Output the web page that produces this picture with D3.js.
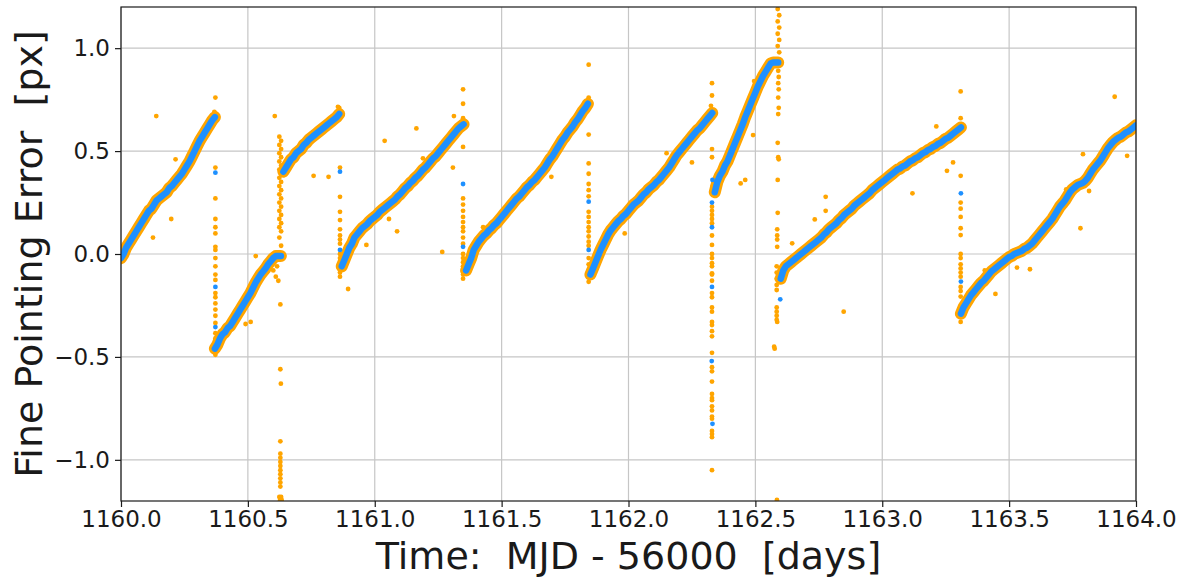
<!DOCTYPE html>
<html>
<head>
<meta charset="utf-8">
<script src="https://cdn.jsdelivr.net/npm/d3@7"></script>
<style>
  body { margin: 0; background: #fff; }
  text { font-family: "DejaVu Sans", sans-serif; fill: #1a1a1a; }
</style>
</head>
<body>
<div id="chart"></div>
<script>
// Fine pointing error vs time, raw (orange) and smoothed (blue) samples

const width = 1180;
const height = 579;
const margin = {left: 121, right: 44, top: 7, bottom: 78};

// axis ticks
const xTicks = [1160.0, 1160.5, 1161.0, 1161.5, 1162.0, 1162.5, 1163.0, 1163.5, 1164.0];
const yTicks = [-1.0, -0.5, 0.0, 0.5, 1.0];

// sampling cadence of the trend segments (days)
const cadence = 0.01;
// start time of each sawtooth segment
const segStarts = [1160.00, 1160.37, 1160.64, 1160.87, 1161.36, 1161.85, 1162.34, 1162.60, 1163.31];

// trend values, one per cadence step
const trend1 = [-0.02, 0.00, 0.03, 0.05, 0.07, 0.09, 0.11, 0.13, 0.15, 0.17, 0.19, 0.21, 0.22, 0.24, 0.26, 0.27, 0.28, 0.29, 0.30, 0.32, 0.33, 0.345, 0.36, 0.375, 0.39, 0.41, 0.43, 0.45, 0.475, 0.50, 0.525, 0.55, 0.57, 0.59, 0.61, 0.63, 0.65, 0.665];
const trend2 = [-0.46, -0.44, -0.41, -0.39, -0.38, -0.36, -0.35, -0.33, -0.31, -0.29, -0.27, -0.25, -0.23, -0.21, -0.19, -0.165, -0.14, -0.12, -0.10, -0.085, -0.07, -0.05, -0.035, -0.02, -0.01, -0.01, -0.01];
const trend3 = [0.40, 0.42, 0.44, 0.46, 0.47, 0.49, 0.50, 0.51, 0.53, 0.54, 0.555, 0.565, 0.575, 0.585, 0.595, 0.605, 0.615, 0.625, 0.635, 0.645, 0.655, 0.665, 0.68];
const trend4 = [-0.06, -0.03, 0.00, 0.03, 0.05, 0.08, 0.095, 0.11, 0.125, 0.135, 0.145, 0.16, 0.17, 0.18, 0.19, 0.205, 0.215, 0.225, 0.235, 0.245, 0.255, 0.265, 0.28, 0.29, 0.305, 0.32, 0.33, 0.345, 0.355, 0.37, 0.38, 0.395, 0.41, 0.42, 0.435, 0.45, 0.465, 0.475, 0.49, 0.505, 0.52, 0.535, 0.55, 0.565, 0.58, 0.595, 0.61, 0.62, 0.63];
const trend5 = [-0.08, -0.05, -0.02, 0.02, 0.04, 0.06, 0.075, 0.09, 0.10, 0.115, 0.125, 0.14, 0.15, 0.165, 0.18, 0.195, 0.21, 0.225, 0.24, 0.255, 0.27, 0.28, 0.295, 0.31, 0.325, 0.335, 0.35, 0.36, 0.375, 0.39, 0.405, 0.42, 0.44, 0.46, 0.475, 0.495, 0.515, 0.535, 0.555, 0.57, 0.59, 0.605, 0.62, 0.64, 0.655, 0.675, 0.695, 0.71, 0.73];
const trend6 = [-0.10, -0.07, -0.04, -0.01, 0.02, 0.045, 0.07, 0.095, 0.115, 0.13, 0.145, 0.16, 0.17, 0.185, 0.195, 0.21, 0.225, 0.24, 0.25, 0.26, 0.275, 0.29, 0.30, 0.315, 0.325, 0.335, 0.35, 0.36, 0.375, 0.39, 0.405, 0.42, 0.44, 0.46, 0.48, 0.495, 0.51, 0.525, 0.54, 0.555, 0.57, 0.585, 0.60, 0.61, 0.625, 0.64, 0.655, 0.67, 0.685];
const trend7 = [0.30, 0.35, 0.38, 0.40, 0.43, 0.45, 0.48, 0.51, 0.54, 0.57, 0.60, 0.63, 0.665, 0.695, 0.725, 0.755, 0.785, 0.815, 0.84, 0.865, 0.885, 0.905, 0.925, 0.93, 0.93, 0.93];
const trend8 = [-0.12, -0.08, -0.06, -0.05, -0.04, -0.03, -0.02, -0.01, 0.00, 0.01, 0.02, 0.03, 0.04, 0.05, 0.06, 0.07, 0.08, 0.095, 0.105, 0.12, 0.13, 0.14, 0.15, 0.165, 0.175, 0.19, 0.20, 0.21, 0.22, 0.235, 0.245, 0.255, 0.265, 0.275, 0.285, 0.295, 0.31, 0.32, 0.33, 0.34, 0.35, 0.36, 0.37, 0.38, 0.39, 0.40, 0.41, 0.415, 0.425, 0.43, 0.44, 0.45, 0.455, 0.465, 0.47, 0.48, 0.49, 0.495, 0.505, 0.51, 0.52, 0.525, 0.535, 0.54, 0.55, 0.56, 0.565, 0.575, 0.585, 0.595, 0.605, 0.615];
const trend9 = [-0.29, -0.26, -0.24, -0.22, -0.20, -0.185, -0.17, -0.155, -0.14, -0.13, -0.115, -0.10, -0.085, -0.075, -0.065, -0.055, -0.045, -0.035, -0.025, -0.015, -0.01, 0.00, 0.005, 0.01, 0.015, 0.025, 0.03, 0.04, 0.05, 0.065, 0.08, 0.095, 0.11, 0.125, 0.14, 0.155, 0.17, 0.19, 0.21, 0.23, 0.245, 0.26, 0.28, 0.30, 0.315, 0.325, 0.335, 0.34, 0.345, 0.355, 0.37, 0.39, 0.41, 0.425, 0.44, 0.455, 0.475, 0.495, 0.515, 0.53, 0.545, 0.555, 0.565, 0.57, 0.58, 0.59, 0.595, 0.605, 0.615, 0.625];
const trends = [trend1, trend2, trend3, trend4, trend5, trend6, trend7, trend8, trend9];

// raw samples off the trend: outliers and the columns at each reset [time, value]
const orangePoints = [
  [1160.139, 0.67], [1160.215, 0.46], [1160.198, 0.17], [1160.126, 0.08], [1160.368, 0.69],
  [1160.372, 0.76], [1160.372, 0.42], [1160.372, 0.27], [1160.372, 0.17], [1160.372, 0.13], [1160.372, 0.10],
  [1160.372, 0.035], [1160.372, 0.02], [1160.372, -0.02], [1160.372, -0.06], [1160.372, -0.10], [1160.372, -0.126],
  [1160.372, -0.19], [1160.372, -0.21], [1160.372, -0.24], [1160.372, -0.27], [1160.372, -0.30], [1160.372, -0.335],
  [1160.372, -0.385], [1160.372, -0.41], [1160.372, -0.44], [1160.372, -0.49],
  [1160.531, -0.01], [1160.491, -0.34], [1160.511, -0.33], [1160.606, 0.67], [1160.628, -0.245],
  [1160.600, -0.08], [1160.610, -0.11], [1160.620, -0.13], [1160.615, -0.06],
  [1160.624, 0.57], [1160.631, 0.55], [1160.624, 0.53], [1160.631, 0.51], [1160.624, 0.49], [1160.631, 0.47],
  [1160.624, 0.45], [1160.631, 0.43], [1160.624, 0.41], [1160.631, 0.39], [1160.624, 0.37], [1160.631, 0.35],
  [1160.624, 0.33], [1160.631, 0.31], [1160.624, 0.29], [1160.631, 0.27], [1160.624, 0.25], [1160.631, 0.23],
  [1160.624, 0.21], [1160.631, 0.19], [1160.624, 0.17], [1160.631, 0.15], [1160.624, 0.13], [1160.631, 0.11],
  [1160.624, 0.08], [1160.631, 0.04],
  [1160.628, -0.56], [1160.630, -0.63], [1160.628, -0.91], [1160.628, -0.97], [1160.628, -0.99], [1160.628, -1.01],
  [1160.628, -1.03], [1160.628, -1.05], [1160.628, -1.07], [1160.628, -1.09], [1160.628, -1.11], [1160.628, -1.13],
  [1160.624, -1.18], [1160.631, -1.18], [1160.627, -1.195], [1160.633, -1.195],
  [1160.759, 0.38], [1160.818, 0.375], [1160.860, 0.71], [1160.855, 0.715],
  [1160.863, 0.42], [1160.863, 0.278], [1160.863, 0.205], [1160.863, 0.165], [1160.863, 0.12], [1160.863, 0.09],
  [1160.863, 0.07], [1160.863, 0.05], [1160.863, 0.00], [1160.863, -0.02], [1160.863, -0.045], [1160.863, -0.09],
  [1160.863, -0.11], [1160.895, -0.17],
  [1161.039, 0.55], [1161.056, 0.17], [1161.088, 0.11], [1160.967, 0.044], [1161.164, 0.61], [1161.190, 0.465],
  [1161.266, 0.01], [1161.308, 0.42], [1161.312, 0.67],
  [1161.348, 0.80], [1161.348, 0.73], [1161.348, 0.66], [1161.348, 0.52], [1161.348, 0.27], [1161.348, 0.24],
  [1161.348, 0.21], [1161.348, 0.18], [1161.348, 0.155], [1161.348, 0.13], [1161.348, 0.11], [1161.348, 0.08],
  [1161.348, 0.05], [1161.348, 0.00], [1161.348, -0.02], [1161.348, -0.04], [1161.348, -0.06], [1161.348, -0.10],
  [1161.348, -0.12],
  [1161.427, 0.13], [1161.696, 0.375],
  [1161.843, 0.92], [1161.843, 0.76], [1161.843, 0.58], [1161.843, 0.44], [1161.843, 0.39], [1161.843, 0.34],
  [1161.843, 0.31], [1161.843, 0.28], [1161.843, 0.205], [1161.843, 0.18], [1161.843, 0.155], [1161.843, 0.13],
  [1161.843, 0.11], [1161.843, 0.085], [1161.843, 0.06], [1161.843, 0.04], [1161.843, -0.02], [1161.843, -0.05],
  [1161.843, -0.08], [1161.843, -0.11], [1161.843, -0.135],
  [1161.985, 0.10], [1162.150, 0.49], [1162.250, 0.445], [1162.325, 0.72],
  [1162.329, 0.83], [1162.329, 0.77], [1162.329, 0.51], [1162.329, 0.47], [1162.332, 0.33], [1162.332, 0.31],
  [1162.332, 0.29], [1162.329, 0.23], [1162.329, 0.21], [1162.329, 0.19], [1162.329, 0.17], [1162.329, 0.15],
  [1162.329, 0.09], [1162.329, 0.044], [1162.329, 0.00], [1162.329, -0.02], [1162.329, -0.045], [1162.329, -0.06],
  [1162.329, -0.094], [1162.329, -0.10], [1162.329, -0.13], [1162.329, -0.19], [1162.329, -0.21], [1162.329, -0.26],
  [1162.329, -0.28], [1162.329, -0.33], [1162.329, -0.345], [1162.329, -0.375], [1162.329, -0.40], [1162.329, -0.48],
  [1162.329, -0.55], [1162.329, -0.57], [1162.329, -0.62], [1162.329, -0.68], [1162.329, -0.70], [1162.329, -0.71],
  [1162.329, -0.74], [1162.329, -0.76], [1162.329, -0.79], [1162.329, -0.80], [1162.329, -0.86], [1162.329, -0.875],
  [1162.329, -0.89], [1162.329, -1.05],
  [1162.495, 0.84], [1162.491, 0.578], [1162.442, 0.343], [1162.460, 0.36],
  [1162.588, 1.19], [1162.594, 1.16], [1162.588, 1.13], [1162.594, 1.10], [1162.588, 1.07], [1162.594, 1.04],
  [1162.588, 1.01], [1162.594, 0.98], [1162.590, 0.89], [1162.592, 0.86], [1162.590, 0.83], [1162.592, 0.80],
  [1162.590, 0.76], [1162.592, 0.71], [1162.590, 0.68], [1162.588, 0.54], [1162.590, 0.47], [1162.592, 0.46],
  [1162.588, 0.36], [1162.588, 0.20], [1162.586, 0.12], [1162.586, 0.09], [1162.586, 0.07], [1162.586, 0.035],
  [1162.584, -0.06], [1162.584, -0.09], [1162.584, -0.12], [1162.584, -0.15], [1162.584, -0.175], [1162.584, -0.26],
  [1162.584, -0.28], [1162.584, -0.30], [1162.584, -0.32], [1162.586, -0.33], [1162.574, -0.45], [1162.576, -0.46],
  [1162.585, -1.195],
  [1162.645, 0.052], [1162.734, 0.168], [1162.777, 0.278], [1162.777, 0.21], [1162.848, -0.28], [1163.119, 0.295],
  [1163.213, 0.62], [1163.255, 0.404], [1163.279, 0.445],
  [1163.309, 0.79], [1163.309, 0.66], [1163.309, 0.38], [1163.309, 0.25], [1163.309, 0.22], [1163.309, 0.18],
  [1163.309, 0.125], [1163.309, 0.092], [1163.309, 0.00], [1163.309, -0.02], [1163.309, -0.05], [1163.309, -0.07],
  [1163.309, -0.09], [1163.309, -0.11], [1163.309, -0.16], [1163.309, -0.18], [1163.309, -0.207], [1163.309, -0.33],
  [1163.404, -0.08], [1163.446, -0.194], [1163.531, -0.066], [1163.582, -0.074], [1163.725, 0.314], [1163.781, 0.125],
  [1163.791, 0.485], [1163.815, 0.306], [1163.916, 0.764], [1163.965, 0.477]
];

// smoothed samples caught in the reset columns [time, value]
const bluePoints = [
  [1160.372, 0.395], [1160.372, -0.16], [1160.372, -0.355],
  [1160.863, 0.40], [1160.863, 0.02],
  [1161.348, 0.34], [1161.348, 0.035],
  [1161.843, 0.254], [1161.843, 0.02],
  [1162.331, 0.36], [1162.329, 0.25], [1162.329, 0.13], [1162.329, -0.16], [1162.328, -0.52], [1162.331, -0.825],
  [1162.598, -0.22],
  [1163.310, 0.295], [1163.310, -0.134]
];

const orange = "#ffa500";
const blue = "#1e90ff";

const svg = d3.select("#chart")
  .append("svg")
  .attr("width", width)
  .attr("height", height);

const xScale = d3.scaleLinear()
  .domain([1160, 1164])
  .range([margin.left, width - margin.right]);

const yScale = d3.scaleLinear()
  .domain([-1.2, 1.2])
  .range([height - margin.bottom, margin.top]);

// grid
svg.append("g")
  .selectAll("line")
  .data(xTicks)
  .enter()
  .append("line")
    .attr("x1", d => xScale(d)).attr("x2", d => xScale(d))
    .attr("y1", margin.top).attr("y2", height - margin.bottom)
    .attr("stroke", "#c6c6c6").attr("stroke-width", 1.2);

svg.append("g")
  .selectAll("line")
  .data(yTicks)
  .enter()
  .append("line")
    .attr("x1", margin.left).attr("x2", width - margin.right)
    .attr("y1", d => yScale(d)).attr("y2", d => yScale(d))
    .attr("stroke", "#c6c6c6").attr("stroke-width", 1.2);

// clip the marks to the plot box
svg.append("clipPath")
  .attr("id", "plot-clip")
  .append("rect")
    .attr("x", margin.left)
    .attr("y", margin.top)
    .attr("width", width - margin.left - margin.right)
    .attr("height", height - margin.top - margin.bottom);

const plot = svg.append("g").attr("clip-path", "url(#plot-clip)");

// turn each trend array into [time, value] samples
const segments = trends.map((vals, k) => vals.map((v, i) => [segStarts[k] + i * cadence, v]));

const line = d3.line()
  .x(d => xScale(d[0]))
  .y(d => yScale(d[1]));

// raw data: dense band around the trend plus the stray points
plot.append("g")
  .selectAll("path")
  .data(segments)
  .enter()
  .append("path")
    .attr("d", line)
    .attr("fill", "none")
    .attr("stroke", orange)
    .attr("stroke-width", 12)
    .attr("stroke-linecap", "round")
    .attr("stroke-linejoin", "round");

plot.append("g")
  .selectAll("circle")
  .data(orangePoints)
  .enter()
  .append("circle")
    .attr("cx", d => xScale(d[0]))
    .attr("cy", d => yScale(d[1]))
    .attr("r", 2.4)
    .attr("fill", orange);

// smoothed data on top
plot.append("g")
  .selectAll("path")
  .data(segments)
  .enter()
  .append("path")
    .attr("d", line)
    .attr("fill", "none")
    .attr("stroke", blue)
    .attr("stroke-width", 6.5)
    .attr("stroke-linecap", "round")
    .attr("stroke-linejoin", "round");

plot.append("g")
  .selectAll("circle")
  .data(bluePoints)
  .enter()
  .append("circle")
    .attr("cx", d => xScale(d[0]))
    .attr("cy", d => yScale(d[1]))
    .attr("r", 2.4)
    .attr("fill", blue);

// axes
const fmt = d3.format(".1f");

const xAxis = svg.append("g")
  .attr("transform", `translate(0,${height - margin.bottom})`)
  .call(d3.axisBottom(xScale).tickValues(xTicks).tickFormat(fmt).tickSize(6).tickPadding(4));

const yAxis = svg.append("g")
  .attr("transform", `translate(${margin.left},0)`)
  .call(d3.axisLeft(yScale).tickValues(yTicks).tickFormat(fmt).tickSize(6).tickPadding(5));

[xAxis, yAxis].forEach(ax => {
  ax.select(".domain").remove();
  ax.selectAll(".tick line").attr("stroke", "#1a1a1a").attr("stroke-width", 1.2);
  ax.selectAll(".tick text")
    .attr("font-size", "23px")
    .attr("font-family", "DejaVu Sans")
    .attr("fill", "#1a1a1a");
});

// frame
svg.append("rect")
  .attr("x", margin.left)
  .attr("y", margin.top)
  .attr("width", width - margin.left - margin.right)
  .attr("height", height - margin.top - margin.bottom)
  .attr("fill", "none")
  .attr("stroke", "#1a1a1a")
  .attr("stroke-width", 1.2);

// axis titles
svg.append("text")
  .attr("x", (margin.left + width - margin.right) / 2)
  .attr("y", 569)
  .attr("text-anchor", "middle")
  .attr("font-size", "38px")
  .style("white-space", "pre")
  .text("Time:  MJD - 56000  [days]");

svg.append("text")
  .attr("transform", `translate(42,${(margin.top + height - margin.bottom) / 2}) rotate(-90)`)
  .attr("text-anchor", "middle")
  .attr("font-size", "38px")
  .style("white-space", "pre")
  .text("Fine Pointing Error  [px]");
</script>
</body>
</html>
